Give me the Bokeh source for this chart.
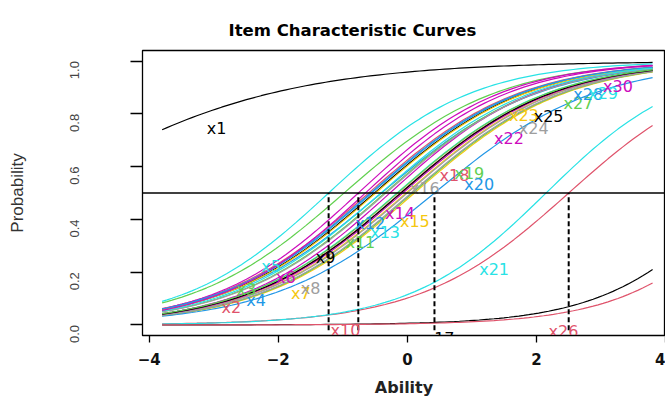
import numpy as np
from bokeh.plotting import figure
from bokeh.models import ColumnDataSource, Span, FixedTicker, Range1d, PrintfTickFormatter
from bokeh.embed import file_html
from bokeh.resources import INLINE
from bokeh.core.properties import value

# ---- data (item parameters) ----
items = ["x1", "x2", "x3", "x4", "x5", "x6", "x7", "x8", "x9", "x10",
         "x11", "x12", "x13", "x14", "x15", "x16", "x17", "x18", "x19", "x20",
         "x21", "x22", "x23", "x24", "x25", "x26", "x27", "x28", "x29", "x30"]
difficulty = [-5.70, -0.60, -0.98, -0.40, -1.22, -0.76, -0.02, 0.00, -0.51, 2.50,
              -0.35, -0.55, -0.16, -0.27, 0.11, -0.33, 5.15, -0.11, 0.08, 0.42,
              2.15, -0.07, -0.49, 0.06, -0.10, 5.50, -0.15, -0.57, -0.41, -0.65]
discrimination = [0.55, 0.85, 0.85, 0.82, 0.90, 0.90, 0.85, 0.85, 0.85, 0.87,
                  0.85, 0.85, 0.85, 0.88, 0.85, 0.85, 0.98, 0.85, 0.85, 0.80,
                  0.95, 0.85, 0.85, 0.85, 0.85, 0.98, 0.85, 0.85, 0.85, 0.90]
marked_items = ["x5", "x6", "x20", "x10"]
palette = ["#000000", "#DF536B", "#61D04F", "#2297E6",
           "#28E2E5", "#CD0BBC", "#F5C710", "#9E9E9E"]
x_ticks = [-4, -2, 0, 2, 4]
y_ticks = [0.0, 0.2, 0.4, 0.6, 0.8, 1.0]
theta = np.linspace(-3.8, 3.8, 100)
cut = 0.5

# ---- derived ----
a = np.array(discrimination)
b = np.array(difficulty)
colors = [palette[i % len(palette)] for i in range(len(items))]
probs = [1.0 / (1.0 + np.exp(-a[i] * (theta - b[i]))) for i in range(len(items))]
pos = np.round(np.linspace(10, 90, len(items))).astype(int) - 1
lab_x = [theta[pos[i]] for i in range(len(items))]
lab_y = [probs[i][pos[i]] for i in range(len(items))]

curves = ColumnDataSource(dict(xs=[theta] * len(items), ys=probs, color=colors))
labels = ColumnDataSource(dict(x=lab_x, y=lab_y, text=items, color=colors))
mk = [items.index(m) for m in marked_items]
marks = ColumnDataSource(dict(x=[b[i] for i in mk], y0=[-0.02] * len(mk), y1=[cut] * len(mk)))

p = figure(width=665, height=399, output_backend="svg", toolbar_location=None,
           x_range=Range1d(-4.104, 4.0), y_range=Range1d(-0.04, 1.04),
           title="Item Characteristic Curves",
           min_border_left=142, min_border_right=0, min_border_top=50, min_border_bottom=64)
p.background_fill_color = "white"
p.border_fill_color = "white"
p.grid.visible = False
p.outline_line_color = "black"
p.outline_line_width = 1.3

p.multi_line(xs="xs", ys="ys", line_color="color", line_width=1.2, source=curves)
p.add_layout(Span(location=cut, dimension="width", line_color="black", line_width=1.5))
p.segment(x0="x", y0="y0", x1="x", y1="y1", line_color="black", line_width=2,
          line_dash="5 3", source=marks)
p.text(x="x", y="y", text="text", text_color="color", source=labels,
       text_font=value("DejaVu Sans"), text_font_size="16px",
       text_align="left", text_baseline="middle", y_offset=16)

p.title.text_font = "DejaVu Sans"
p.title.text_font_size = "16.5px"
p.title.text_font_style = "bold"
p.title.text_color = "black"
p.title.align = "left"
p.title.offset = 86
p.title.standoff = 22

p.xaxis.ticker = FixedTicker(ticks=x_ticks)
p.yaxis.ticker = FixedTicker(ticks=y_ticks)
p.yaxis.formatter = PrintfTickFormatter(format="%.1f")
for ax in (p.xaxis, p.yaxis):
    ax.minor_tick_line_color = None
    ax.axis_line_color = "black"
    ax.major_tick_line_color = "black"
    ax.major_tick_line_width = 1.3
    ax.major_tick_in = 0

p.xaxis.axis_label = "Ability"
p.xaxis.major_tick_out = 7
p.xaxis.major_label_standoff = 10
p.xaxis.major_label_text_font = "DejaVu Sans"
p.xaxis.major_label_text_font_size = "15px"
p.xaxis.major_label_text_font_style = "bold"
p.xaxis.major_label_text_color = "#111111"
p.xaxis.axis_label_text_font = "DejaVu Sans"
p.xaxis.axis_label_text_font_size = "16px"
p.xaxis.axis_label_text_font_style = "bold"
p.xaxis.axis_label_text_color = "#222222"
p.xaxis.axis_label_standoff = 10

p.yaxis.axis_label = "Probability"
p.yaxis.major_tick_out = 12
p.yaxis.major_label_orientation = np.pi / 2
p.yaxis.major_label_standoff = 56
p.yaxis.major_label_text_font = "Liberation Sans"
p.yaxis.major_label_text_font_size = "13px"
p.yaxis.major_label_text_color = "#444444"
p.yaxis.axis_label_text_font = "Liberation Sans"
p.yaxis.axis_label_text_font_size = "17px"
p.yaxis.axis_label_text_font_style = "normal"
p.yaxis.axis_label_text_color = "#333333"
p.yaxis.axis_label_standoff = 36

open("out.html", "w").write(file_html(p, INLINE))
